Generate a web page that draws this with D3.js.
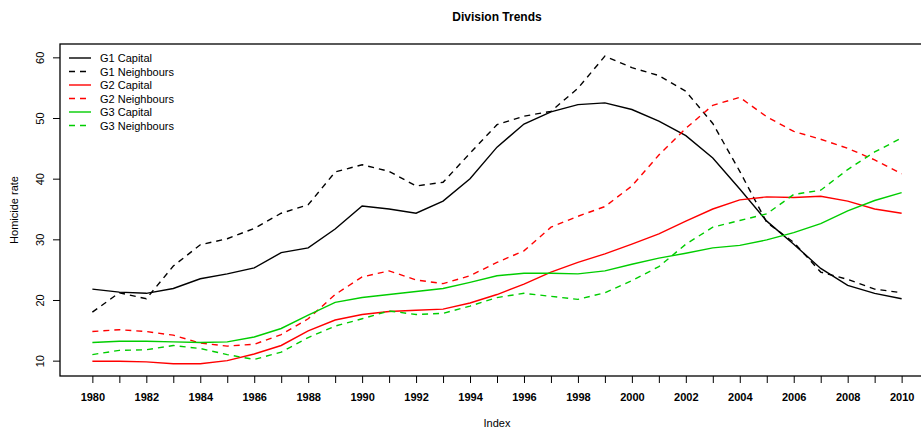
<!DOCTYPE html>
<html>
<head>
<meta charset="utf-8">
<script src="https://cdn.jsdelivr.net/npm/d3@7"></script>
<style>
  body { margin: 0; background: #fff; }
  svg { font-family: "Liberation Sans", Arial, sans-serif; }
</style>
</head>
<body>
<svg id="chart"></svg>
<script>
// years on the x axis
const years = d3.range(1980, 2011);
const xTickLabels = d3.range(1980, 2011, 2);
const yTickLabels = [10, 20, 30, 40, 50, 60];

// values
const g1Capital = [21.8, 21.3, 21.1, 21.9, 23.5, 24.3, 25.3, 27.8, 28.6, 31.7,
  35.5, 35.0, 34.3, 36.3, 40.0, 45.2, 49.0, 51.0, 52.2, 52.5,
  51.4, 49.5, 47.1, 43.4, 38.3, 33.0, 29.2, 25.2, 22.4, 21.1, 20.2];
const g1Neighbours = [18.0, 21.2, 20.2, 25.6, 29.1, 30.1, 31.8, 34.3, 35.7, 41.1,
  42.3, 41.2, 38.8, 39.4, 44.2, 48.9, 50.3, 51.1, 54.9, 60.2,
  58.3, 57.0, 54.4, 49.1, 41.2, 32.8, 29.5, 24.6, 23.4, 21.8, 21.2];
const g2Capital = [9.9, 9.9, 9.8, 9.5, 9.5, 10.0, 11.1, 12.5, 14.9, 16.7,
  17.6, 18.1, 18.3, 18.5, 19.5, 20.9, 22.6, 24.6, 26.2, 27.6,
  29.2, 30.9, 33.0, 35.0, 36.5, 37.0, 36.9, 37.1, 36.3, 35.0, 34.3];
const g2Neighbours = [14.8, 15.1, 14.8, 14.2, 12.9, 12.4, 12.7, 14.3, 16.9, 20.9,
  23.8, 24.8, 23.3, 22.7, 24.0, 26.2, 28.1, 32.0, 33.8, 35.4,
  38.8, 43.9, 48.3, 52.1, 53.4, 50.2, 47.8, 46.5, 45.0, 43.1, 40.8];
const g3Capital = [13.0, 13.2, 13.2, 13.1, 13.0, 13.1, 13.9, 15.3, 17.5, 19.6,
  20.4, 20.9, 21.4, 21.9, 22.9, 24.0, 24.4, 24.4, 24.3, 24.8,
  25.9, 26.9, 27.7, 28.6, 29.0, 29.9, 31.1, 32.6, 34.7, 36.4, 37.7];
const g3Neighbours = [11.0, 11.7, 11.8, 12.5, 12.0, 11.0, 10.2, 11.4, 13.8, 15.7,
  16.9, 18.2, 17.6, 17.8, 19.0, 20.4, 21.1, 20.6, 20.1, 21.2,
  23.2, 25.5, 29.2, 32.0, 33.1, 34.2, 37.4, 38.1, 41.5, 44.4, 46.7];

const seriesNames = ["G1 Capital", "G1 Neighbours", "G2 Capital", "G2 Neighbours", "G3 Capital", "G3 Neighbours"];
const seriesValues = [g1Capital, g1Neighbours, g2Capital, g2Neighbours, g3Capital, g3Neighbours];
const colors = ["#000000", "#000000", "#ff0000", "#ff0000", "#00cd00", "#00cd00"];
const dashed = [false, true, false, true, false, true];

const width = 921, height = 428;
const margin = { top: 44, right: -13, bottom: 52, left: 60 };

const svg = d3.select("#chart")
  .attr("width", width)
  .attr("height", height);

const x = d3.scaleLinear()
  .domain([1978.8, 2011.2])
  .range([margin.left, width - margin.right]);

const y = d3.scaleLinear()
  .domain([7.47, 62.2])
  .range([height - margin.bottom, margin.top]);

// box (right edge falls outside the window)
svg.append("rect")
  .attr("x", margin.left)
  .attr("y", margin.top)
  .attr("width", width - margin.right - margin.left)
  .attr("height", height - margin.bottom - margin.top)
  .attr("fill", "none")
  .attr("stroke", "#000")
  .attr("stroke-width", 1.3);

// x axis: a tick every year, labels every 2 years
const xAxis = svg.append("g")
  .attr("transform", "translate(0," + (height - margin.bottom) + ")")
  .call(d3.axisBottom(x).tickValues(years).tickSize(7).tickSizeOuter(0)
    .tickFormat(d => xTickLabels.includes(d) ? d : ""));
xAxis.select(".domain").remove();
xAxis.selectAll("line").attr("stroke", "#000");
xAxis.selectAll("text")
  .attr("y", 17)
  .attr("font-size", 11)
  .attr("font-weight", "bold")
  .attr("font-family", "Liberation Sans, Arial, sans-serif")
  .attr("fill", "#000");

// y axis
const yAxis = svg.append("g")
  .attr("transform", "translate(" + margin.left + ",0)")
  .call(d3.axisLeft(y).tickValues(yTickLabels).tickSize(7).tickSizeOuter(0));
yAxis.select(".domain").remove();
yAxis.selectAll("line").attr("stroke", "#000");
yAxis.selectAll("text")
  .attr("font-size", 11)
  .attr("font-family", "Liberation Sans, Arial, sans-serif")
  .attr("fill", "#000")
  .attr("text-anchor", "middle")
  .attr("dy", null)
  .attr("x", null)
  .attr("transform", "translate(-20,0) rotate(-90)")
  .attr("dominant-baseline", "central");

// labels
svg.append("text")
  .attr("x", (margin.left + width - margin.right) / 2)
  .attr("y", 21)
  .attr("text-anchor", "middle")
  .attr("font-size", 12)
  .attr("font-weight", "bold")
  .text("Division Trends");

svg.append("text")
  .attr("x", (margin.left + width - margin.right) / 2)
  .attr("y", 427)
  .attr("text-anchor", "middle")
  .attr("font-size", 11)
  .text("Index");

svg.append("text")
  .attr("transform", "translate(18," + ((margin.top + height - margin.bottom) / 2) + ") rotate(-90)")
  .attr("text-anchor", "middle")
  .attr("font-size", 11)
  .text("Homicide rate");

// lines
const line = d3.line()
  .x((d, i) => x(years[i]))
  .y(d => y(d));

svg.selectAll(".line")
  .data(seriesValues)
  .enter()
  .append("path")
  .attr("class", "line")
  .attr("fill", "none")
  .attr("stroke", (d, i) => colors[i])
  .attr("stroke-width", 1.4)
  .attr("stroke-dasharray", (d, i) => dashed[i] ? "6,5" : null)
  .attr("d", line);

// legend
const legend = svg.append("g");
const rows = legend.selectAll("g")
  .data(seriesNames)
  .enter()
  .append("g")
  .attr("transform", (d, i) => "translate(0," + (58 + i * 13.5) + ")");
rows.append("line")
  .attr("x1", 69).attr("x2", 91)
  .attr("stroke", (d, i) => colors[i])
  .attr("stroke-width", 1.4)
  .attr("stroke-dasharray", (d, i) => dashed[i] ? "6,5" : null);
rows.append("text")
  .attr("x", 100)
  .attr("dominant-baseline", "central")
  .attr("font-size", 11)
  .text(d => d);
</script>
</body>
</html>
